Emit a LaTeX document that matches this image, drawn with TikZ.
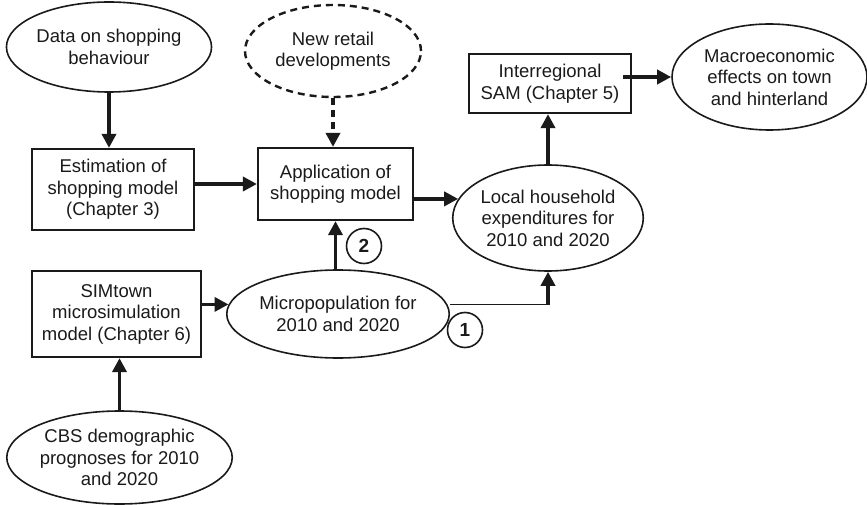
\documentclass[tikz,border=0pt]{standalone}
\usepackage{fontspec}
\setmainfont{Liberation Sans}
\usetikzlibrary{shapes.geometric,arrows.meta}
\definecolor{ink}{HTML}{1A1A1A}
\tikzset{
  txt/.style={align=center,font=\fontsize{18.5}{21.5}\selectfont,text=ink,inner sep=0pt},
  oval/.style={txt,ellipse,draw=ink,line width=1.6pt},
  boxx/.style={txt,rectangle,draw=ink,line width=2.2pt},
  num/.style={circle,draw=ink,line width=1.6pt,minimum size=35pt,inner sep=0pt,font=\bfseries\fontsize{19}{21}\selectfont,text=ink},
  arr/.style={draw=ink,line width=3.5pt,-{Triangle[length=14pt,width=14pt]}},
}
\begin{document}
\begin{tikzpicture}[x=1pt,y=-1pt]
\useasboundingbox (0,0) rectangle (867,505);
\node[oval,minimum width=178pt,minimum height=90pt] (data) at (109,47) {Data on shopping\\behaviour};
\node[oval,dashed,dash pattern=on 7pt off 5pt,line width=2.4pt,minimum width=176pt,minimum height=92pt] (newr) at (333,51) {New retail\\developments};
\node[boxx,minimum width=162pt,minimum height=81pt] (est) at (113,189.5) {Estimation of\\shopping model\\(Chapter 3)};
\node[boxx,minimum width=155pt,minimum height=72pt] (app) at (335.5,184) {Application of\\shopping model};
\node[boxx,minimum width=162pt,minimum height=59pt] (sam) at (550,83.5) {Interregional\\SAM (Chapter 5)};
\node[oval,minimum width=195pt,minimum height=106pt] (macro) at (769.5,77) {Macroeconomic\\effects on town\\and hinterland};
\node[oval,minimum width=190pt,minimum height=106pt] (local) at (548,218) {Local household\\expenditures for\\2010 and 2020};
\node[boxx,minimum width=169pt,minimum height=86pt] (sim) at (116.5,314) {SIMtown\\microsimulation\\model (Chapter 6)};
\node[oval,minimum width=210pt,minimum height=88pt] (micro) at (338,314) {Micropopulation for\\2010 and 2020};
\node[oval,minimum width=225pt,minimum height=93pt] (cbs) at (119.5,457.5) {CBS demographic\\prognoses for 2010\\and 2020};
\node[num] (c2) at (364,246) {2};
\node[num] (c1) at (465,330) {1};

\draw[arr] (data.south) -- (data.south |- est.north);
\draw[arr,dash pattern=on 7pt off 5pt] (newr.south) -- (newr.south |- app.north);
\draw[arr] (est.east |- app.west) -- (app.west);
\draw[arr] (app.east |- local.168) -- (local.168);
\draw[arr] (local.north) -- (local.north |- sam.south);
\coordinate (s1) at ([xshift=-9pt]sam.east);
\draw[arr] (s1 |- macro.west) -- (macro.west);
\draw[arr] (cbs.north) -- (cbs.north |- sim.south);
\draw[arr] (sim.east |- micro.175) -- (micro.175);
\draw[arr] (app.south |- micro.north) -- (app.south);
\coordinate (m1) at ([xshift=3pt]micro.5);
\coordinate (m2) at (m1 -| local.south);
\draw[draw=ink,line width=1.6pt] (m1) -- (m2);
\draw[arr] ([yshift=-0.8pt]m2) -- (local.south);
\end{tikzpicture}
\end{document}
